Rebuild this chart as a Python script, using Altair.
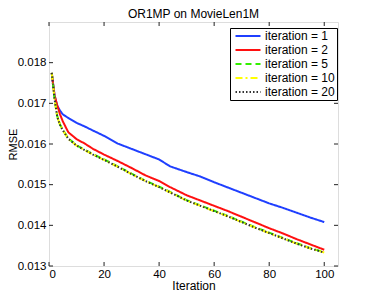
import altair as alt
import pandas as pd

# ---- data ----
chart_title = "OR1MP on MovieLen1M"
x_title = "Iteration"
y_title = "RMSE"

iters = [1, 2, 3, 4, 5, 7, 10, 13, 16, 20, 25, 30, 35, 40, 44, 50, 55, 60, 65, 70, 75, 80, 85, 90, 95, 100]

rmse_it1 = [0.01775, 0.01720, 0.01694, 0.01682, 0.01673, 0.01664, 0.01652, 0.01643, 0.01633, 0.01620,
            0.01601, 0.01588, 0.01575, 0.01562, 0.01545, 0.01531, 0.01520, 0.01506, 0.01493, 0.01480,
            0.01467, 0.01454, 0.01443, 0.01431, 0.01419, 0.01408]
rmse_it2 = [0.01775, 0.01720, 0.01695, 0.01673, 0.01656, 0.01629, 0.01612, 0.01601, 0.01588, 0.01574,
            0.01558, 0.01541, 0.01523, 0.01509, 0.01494, 0.01474, 0.01461, 0.01448, 0.01435, 0.01421,
            0.01407, 0.01393, 0.01380, 0.01366, 0.01353, 0.01340]
rmse_it5 = [0.01775, 0.01712, 0.01668, 0.01648, 0.01635, 0.01614, 0.01597, 0.01586, 0.01575, 0.01562,
            0.01545, 0.01527, 0.01510, 0.01495, 0.01482, 0.01462, 0.01449, 0.01436, 0.01423, 0.01409,
            0.01395, 0.01382, 0.01369, 0.01356, 0.01344, 0.01334]
rmse_it10 = [0.01775, 0.01711, 0.01667, 0.01647, 0.01634, 0.01613, 0.01596, 0.01585, 0.01574, 0.01561,
             0.01544, 0.01526, 0.01509, 0.01494, 0.01481, 0.01461, 0.01448, 0.01435, 0.01422, 0.01408,
             0.01394, 0.01381, 0.01368, 0.01355, 0.01343, 0.01333]
rmse_it20 = [0.01775, 0.01711, 0.01667, 0.01647, 0.01634, 0.01613, 0.01596, 0.01585, 0.01574, 0.01561,
             0.01544, 0.01526, 0.01509, 0.01494, 0.01481, 0.01461, 0.01448, 0.01435, 0.01422, 0.01408,
             0.01394, 0.01381, 0.01368, 0.01355, 0.01343, 0.01333]

series_names = ["iteration = 1", "iteration = 2", "iteration = 5", "iteration = 10", "iteration = 20"]
series_values = [rmse_it1, rmse_it2, rmse_it5, rmse_it10, rmse_it20]
series_colors = ["#1f3fff", "#ff1010", "#33ee00", "#ffff00", "#333333"]
series_dashes = [[1, 0], [1, 0], [6, 4], [7, 3, 2, 3], [1.5, 2]]

x_ticks = [0, 20, 40, 60, 80, 100]
y_ticks = [0.013, 0.014, 0.015, 0.016, 0.017, 0.018]

rows = []
for order, (name, vals) in enumerate(zip(series_names, series_values)):
    for it, v in zip(iters, vals):
        rows.append({"Iteration": it, "RMSE": v, "series": name, "order": order})
df = pd.DataFrame(rows)

W, H = 289, 244
FONT = "Liberation Sans"

xscale = alt.Scale(domain=[0, 105], nice=False, zero=False)
yscale = alt.Scale(domain=[0.013, 0.019], nice=False, zero=False)

xaxis = alt.Axis(values=x_ticks, tickSize=0, domain=False, grid=False,
                 labelPadding=11, labelBaseline="alphabetic",
                 labelFont=FONT, labelFontSize=11.5, labelColor="black",
                 titleFont=FONT, titleFontSize=12, titleFontWeight="normal", titleColor="black",
                 titleX=W / 2, titleY=23, titleBaseline="alphabetic")
yaxis = alt.Axis(values=y_ticks, format=".3f", tickSize=0, domain=False, grid=False,
                 labelPadding=3,
                 labelFont=FONT, labelFontSize=11.5, labelColor="black",
                 titleFont=FONT, titleFontSize=11, titleFontWeight="normal", titleColor="black",
                 titleX=-32.5, titleY=H / 2, titleBaseline="alphabetic")

legend = alt.Legend(orient="none", legendX=181, legendY=6, title=None,
                    fillColor="white", strokeColor="black", padding=2,
                    symbolType="M-2.5,0H2.5", symbolSize=100, symbolStrokeWidth=2,
                    symbolOffset=10, labelOffset=11,
                    labelFontSize=12, labelFont=FONT, labelColor="black",
                    rowPadding=2)

lines = alt.Chart(df).mark_line(strokeWidth=2).encode(
    x=alt.X("Iteration:Q", scale=xscale, title=x_title, axis=xaxis),
    y=alt.Y("RMSE:Q", scale=yscale, title=y_title, axis=yaxis),
    color=alt.Color("series:N",
                    scale=alt.Scale(domain=series_names, range=series_colors),
                    legend=legend),
    strokeDash=alt.StrokeDash("series:N",
                              scale=alt.Scale(domain=series_names, range=series_dashes),
                              legend=legend),
    order=alt.Order("order:Q"),
)

xt = pd.DataFrame({"v": x_ticks})
yt = pd.DataFrame({"v": y_ticks})
tick_color = "#222222"
xb = alt.Chart(xt).mark_rule(color=tick_color).encode(
    x=alt.X("v:Q", scale=xscale, title=x_title, axis=xaxis), y=alt.value(H), y2=alt.value(H - 4))
xtop = alt.Chart(xt).mark_rule(color=tick_color).encode(
    x=alt.X("v:Q", scale=xscale, title=x_title, axis=xaxis), y=alt.value(0), y2=alt.value(4))
yl = alt.Chart(yt).mark_rule(color=tick_color).encode(
    y=alt.Y("v:Q", scale=yscale, title=y_title, axis=yaxis), x=alt.value(0), x2=alt.value(4))
yr = alt.Chart(yt).mark_rule(color=tick_color).encode(
    y=alt.Y("v:Q", scale=yscale, title=y_title, axis=yaxis), x=alt.value(W), x2=alt.value(W - 4))

title_txt = alt.Chart(pd.DataFrame({"t": [chart_title]})).mark_text(
    font=FONT, fontSize=12, color="black", baseline="alphabetic", align="center"
).encode(text="t:N", x=alt.value(W / 2), y=alt.value(-4))

chart = alt.layer(xb, xtop, yl, yr, lines, title_txt).properties(
    width=W, height=H,
    autosize=alt.AutoSizeParams(type="none"),
    padding={"left": 41, "top": 14, "right": 20, "bottom": 25},
).configure_view(stroke="black", strokeWidth=1).configure(background="white")

chart.save("out.html", embed_options={"renderer": "svg", "actions": False})
